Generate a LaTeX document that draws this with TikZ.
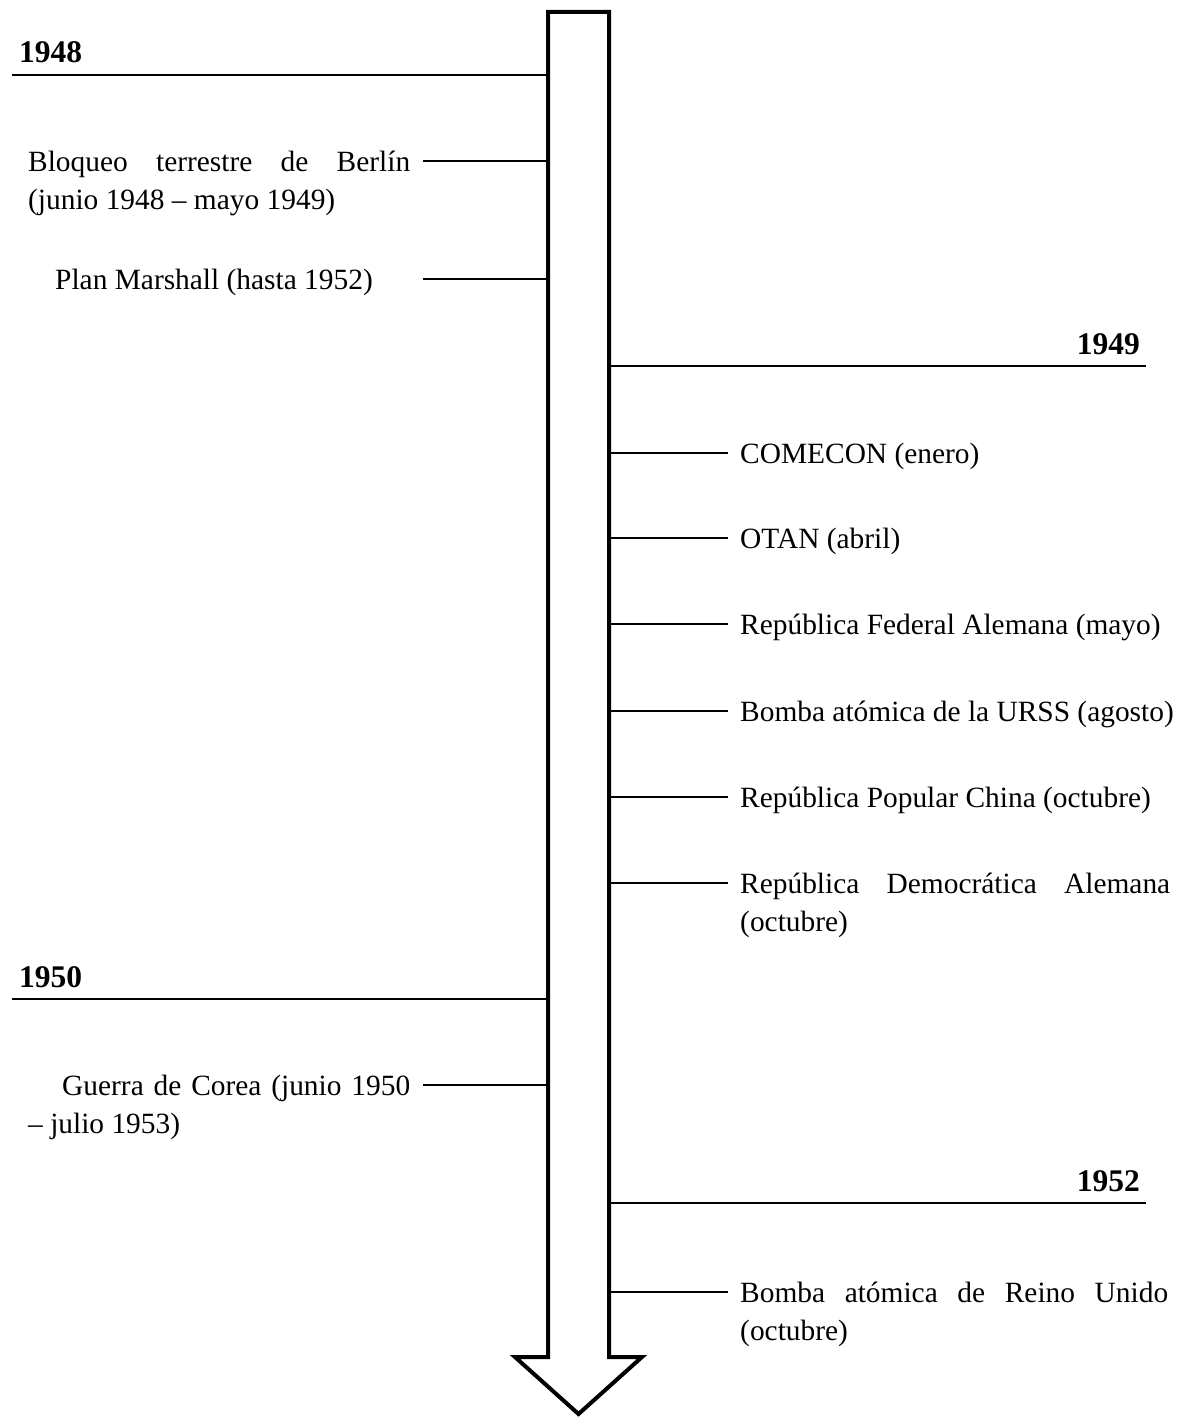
\documentclass[tikz,border=0pt]{standalone}
\usepackage{fontspec}
\setmainfont{Liberation Serif}
\begin{document}
\begin{tikzpicture}[x=1pt,y=-1pt,
  body/.style={inner sep=0pt, font=\fontsize{29.4}{38}\selectfont},
  yearlbl/.style={inner sep=0pt, font=\fontsize{31.5}{38}\selectfont\bfseries},
  para/.style={body, text width=#1, align=justify},
  yearrule/.style={line width=2.2pt},
  ticker/.style={line width=2pt},
  shaft/.style={line width=4pt, line join=miter}]
\useasboundingbox (0,0) rectangle (1183,1421);

% the time arrow
\draw[shaft] (548,12) -- (609,12) -- (609,1357) -- (642,1357)
  -- (578.5,1414) -- (515,1357) -- (548,1357) -- cycle;

% year markers
\coordinate (y48a) at (12,75);   \coordinate (y48b) at (546,75);
\coordinate (y49a) at (611,366); \coordinate (y49b) at (1146,366);
\coordinate (y50a) at (12,999);  \coordinate (y50b) at (546,999);
\coordinate (y52a) at (611,1203);\coordinate (y52b) at (1146,1203);
\draw[yearrule] (y48a) -- (y48b);
\draw[yearrule] (y49a) -- (y49b);
\draw[yearrule] (y50a) -- (y50b);
\draw[yearrule] (y52a) -- (y52b);
\node[yearlbl, anchor=base west] (t48) at (19,63) {1948};
\node[yearlbl, anchor=base east] (t49) at (1140,354) {1949};
\node[yearlbl, anchor=base west] (t50) at (19,987) {1950};
\node[yearlbl, anchor=base east] (t52) at (1140,1191) {1952};

% events on the left
\node[para=382pt, anchor=base west] (bloqueo) at (28,171)
  {Bloqueo terrestre de Berlín\linebreak (junio 1948 – mayo 1949)};
\node[body, anchor=base west] (marshall) at (55,289) {Plan Marshall (hasta 1952)};
\node[para=382pt, anchor=base west] (corea) at (28,1095)
  {\hspace*{34pt}Guerra de Corea (junio 1950\linebreak – julio 1953)};
\foreach \n/\y in {bloqueo/161, marshall/279, corea/1085}{
  \coordinate (\n-a) at (423,\y);
  \coordinate (\n-b) at (546,\y);
  \draw[ticker] (\n-a) -- (\n-b);
}

% events on the right
\node[body, anchor=base west] (comecon) at (740,463) {COMECON (enero)};
\node[body, anchor=base west] (otan) at (740,548) {OTAN (abril)};
\node[body, anchor=base west] (rfa) at (740,634) {República Federal Alemana (mayo)};
\node[body, anchor=base west] (urss) at (740,721) {Bomba atómica de la URSS (agosto)};
\node[body, anchor=base west] (china) at (740,807) {República Popular China (octubre)};
\node[para=430pt, anchor=base west] (rda) at (740,893)
  {República Democrática Alemana\linebreak (octubre)};
\node[para=428pt, anchor=base west] (ru) at (740,1302)
  {Bomba atómica de Reino Unido\linebreak (octubre)};
\foreach \n/\y in {comecon/453, otan/538, rfa/624, urss/711, china/797, rda/883, ru/1292}{
  \coordinate (\n-a) at (611,\y);
  \coordinate (\n-b) at (728,\y);
  \draw[ticker] (\n-a) -- (\n-b);
}
\end{tikzpicture}
\end{document}
